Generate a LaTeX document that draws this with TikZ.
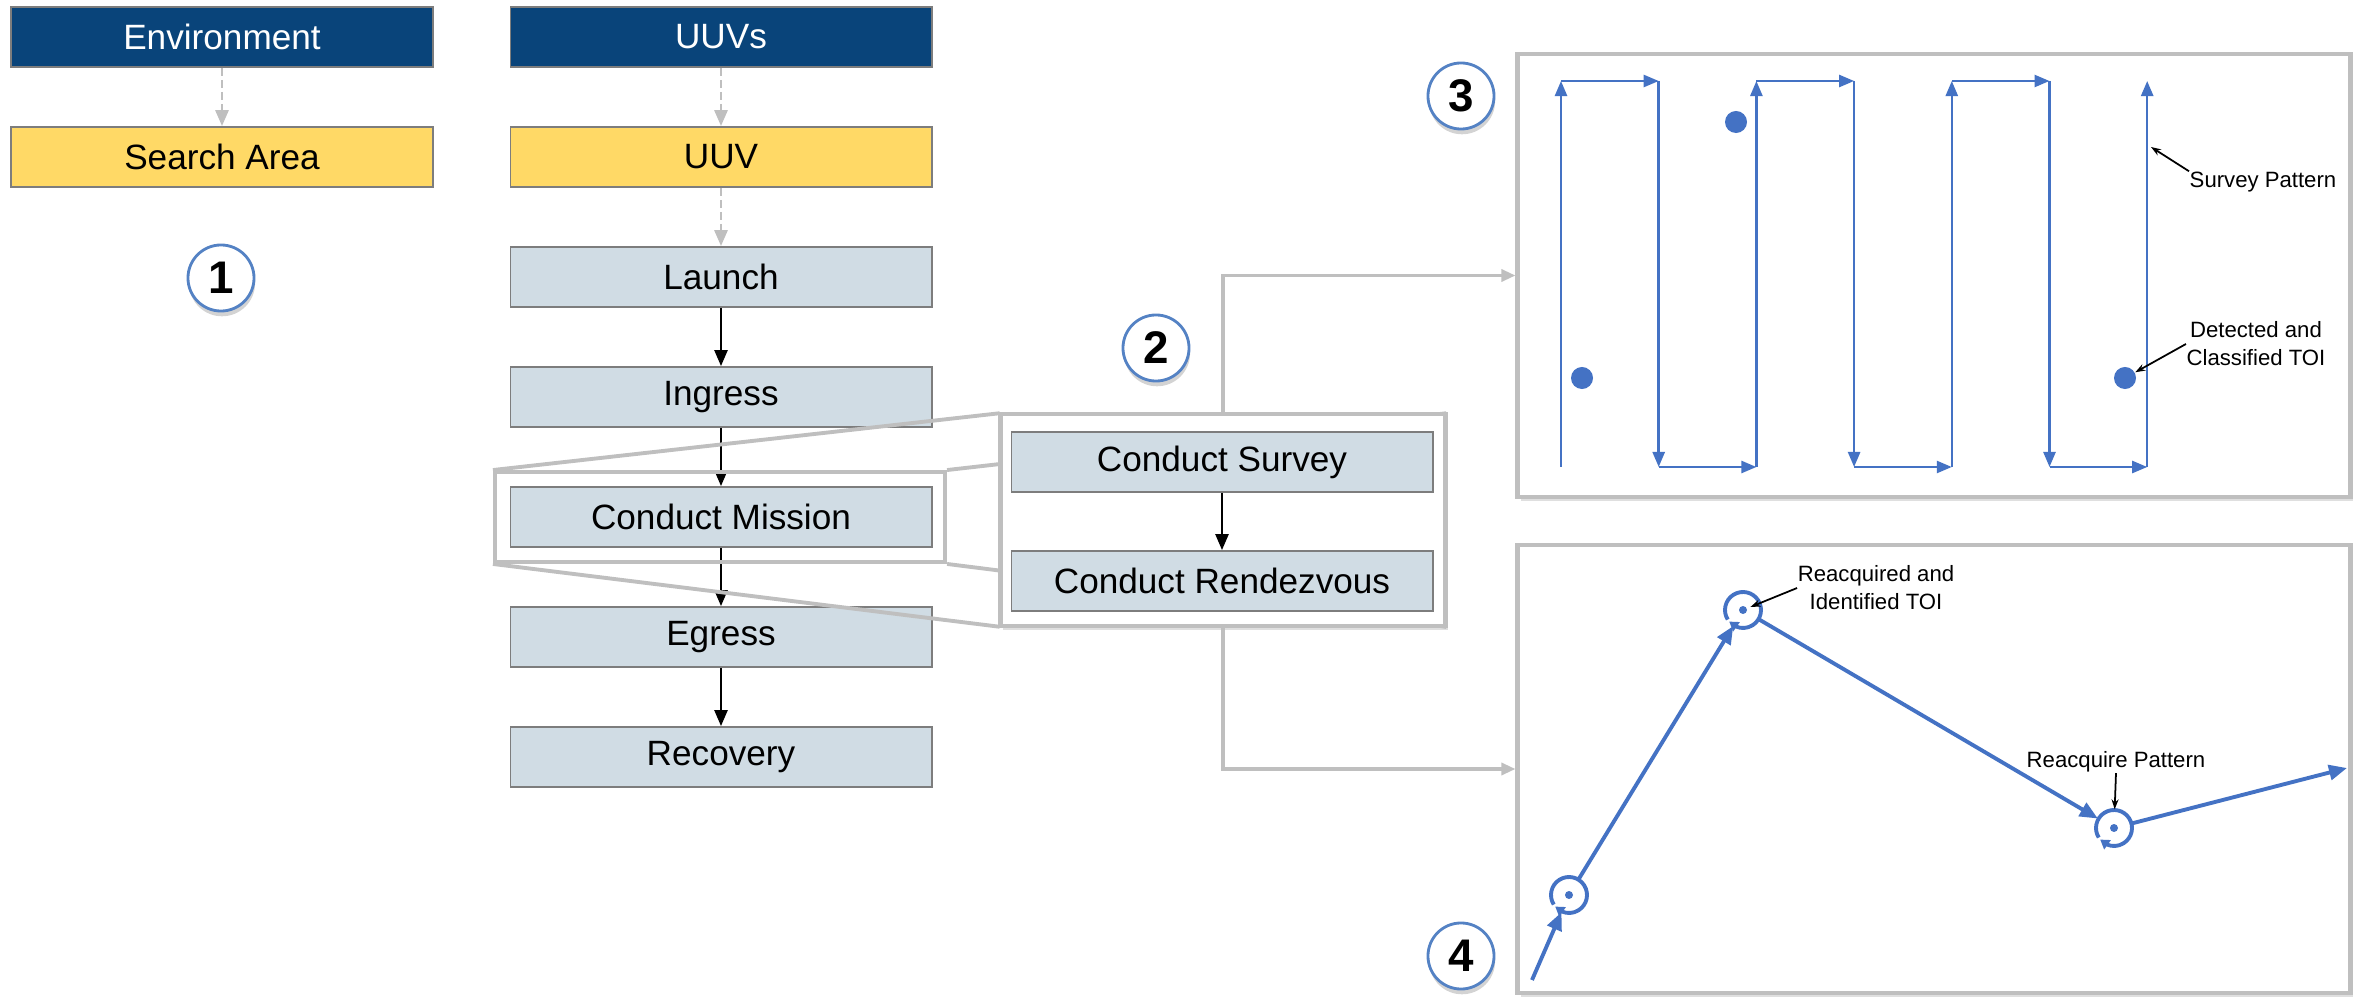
\documentclass[tikz,border=0pt]{standalone}
\usepackage{fontspec}
\setmainfont{Liberation Sans}
\usetikzlibrary{arrows.meta,
                bending,
                shadows}

\definecolor{hdrblue}{RGB}{9,68,122}
\definecolor{gold}{RGB}{255,217,102}
\definecolor{stepgray}{RGB}{208,220,228}
\definecolor{edgegray}{RGB}{125,125,125}
\definecolor{linkgray}{RGB}{191,191,191}
\definecolor{pathblue}{RGB}{68,114,196}
\definecolor{numblue}{RGB}{84,130,196}

\tikzset{
  box/.style={draw=edgegray, line width=0.5pt, minimum width=4.21cm, minimum height=0.6cm,
              inner sep=0pt, font=\fontsize{10}{12}\selectfont},
  hdrbox/.style={box, fill=hdrblue, text=white},
  objbox/.style={box, fill=gold},
  stepbox/.style={box, fill=stepgray},
  flow/.style={-{Triangle[length=0.16cm,width=0.13cm]}, line width=0.7pt, black},
  refine/.style={flow, linkgray, line width=0.8pt, dash pattern=on 0.08cm off 0.04cm},
  zoomline/.style={linkgray, line width=1.1pt},
  link/.style={-{Triangle[length=0.14cm,width=0.12cm]}, linkgray, line width=0.9pt},
  panel/.style={draw=linkgray, line width=1.3pt, fill=white, inner sep=0pt,
                drop shadow={shadow xshift=0.8pt, shadow yshift=-1.2pt, opacity=0.25}},
  numbadge/.style={circle, draw=numblue, line width=0.8pt, fill=white, minimum size=0.66cm,
                   inner sep=0pt, font=\fontsize{13}{15}\selectfont\bfseries,
                   drop shadow={shadow xshift=0.3pt, shadow yshift=-1.5pt, opacity=0.35}},
  sweep/.style={-{Triangle[length=0.15cm,width=0.12cm]}, line width=0.7pt, pathblue},
  track/.style={-{Triangle[length=0.18cm,width=0.15cm]}, line width=1.1pt, pathblue},
  toi/.style={circle, fill=pathblue, minimum size=0.22cm, inner sep=0pt},
  loopspot/.style={circle, minimum size=0.36cm, inner sep=0pt},
  loopline/.style={-{Triangle[length=0.09cm,width=0.11cm]}, line width=1.1pt, pathblue},
  note/.style={font=\fontsize{6.3}{8}\selectfont, align=center, inner sep=0pt},
  callout/.style={-{Stealth[length=0.1cm,width=0.07cm]}, line width=0.5pt, black}
}

\begin{document}
\begin{tikzpicture}[x=0.01cm, y=-0.01cm]
  \useasboundingbox (0,0) rectangle (2359,997);

  \node [hdrbox] (env) at (222,37) {Environment};
  \node [objbox] (area) at (222,157) {Search Area};
  \node [hdrbox] (uuvs) at (721,37) {UUVs};
  \node [objbox] (uuv) at (721,157) {UUV};
  \node [stepbox] (launch) at (721,277) {Launch};
  \node [stepbox] (ingress) at (721,397) {Ingress};
  \node [stepbox] (mission) at (721,517) {Conduct Mission};
  \node [stepbox] (egress) at (721,637) {Egress};
  \node [stepbox] (recovery) at (721,757) {Recovery};

  \draw [refine] (env) -- (area);
  \draw [refine] (uuvs) -- (uuv);
  \draw [refine] (uuv) -- (launch);
  \draw [flow] (launch) -- (ingress);
  \draw [flow] (ingress) -- (mission);
  \draw [flow] (mission) -- (egress);
  \draw [flow] (egress) -- (recovery);

  \node [draw=linkgray, line width=1.1pt, minimum width=4.5cm, minimum height=0.9cm,
         inner sep=0pt] (zoomsrc) at (720,517) {};
  \node [minimum width=4.45cm, minimum height=2.12cm, inner sep=0pt] (zoomarea) at (1223,520) {};
  \draw [zoomline] (zoomsrc.north west) -- (zoomarea.north west);
  \draw [zoomline] (zoomsrc.south west) -- (zoomarea.south west);
  \draw [zoomline] (zoomsrc.north east) -- (zoomarea.north east);
  \draw [zoomline] (zoomsrc.south east) -- (zoomarea.south east);
  \node [panel, minimum width=4.45cm, minimum height=2.12cm] (zoompanel) at (1223,520) {};
  \node [stepbox] (survey) at (1222,462) {Conduct Survey};
  \node [stepbox] (rendezvous) at (1222,581) {Conduct Rendezvous};
  \draw [flow] (survey) -- (rendezvous);

  \node [panel, minimum width=8.32cm, minimum height=4.43cm] (surveypanel) at (1934,275.5) {};
  \node [panel, minimum width=8.32cm, minimum height=4.48cm] (reacqpanel) at (1934,769) {};
  \draw [link] (zoompanel.north) |- (surveypanel.west);
  \draw [link] (zoompanel.south) |- (reacqpanel.west);

  \draw [sweep] (1561,467) -- (1561,81);
  \draw [sweep] (1561,81) -- (1658.7,81);
  \draw [sweep] (1658.7,81) -- (1658.7,467);
  \draw [sweep] (1658.7,467) -- (1756.4,467);
  \draw [sweep] (1756.4,467) -- (1756.4,81);
  \draw [sweep] (1756.4,81) -- (1854.1,81);
  \draw [sweep] (1854.1,81) -- (1854.1,467);
  \draw [sweep] (1854.1,467) -- (1951.8,467);
  \draw [sweep] (1951.8,467) -- (1951.8,81);
  \draw [sweep] (1951.8,81) -- (2049.5,81);
  \draw [sweep] (2049.5,81) -- (2049.5,467);
  \draw [sweep] (2049.5,467) -- (2147.2,467);
  \draw [sweep] (2147.2,467) -- (2147.2,81);
  \node [toi] (toia) at (1736,122) {};
  \node [toi] (toib) at (1582,378) {};
  \node [toi] (toic) at (2125,378) {};
  \node [note] (svpat) at (2263,182) {Survey Pattern};
  \coordinate (svtip) at (2151,147);
  \draw [callout] (svpat.north west) -- (svtip);
  \node [note] (dettoi) at (2256,344) {Detected and\\Classified TOI};
  \draw [callout] (dettoi.west) -- (toic);

  \coordinate (trkstart) at (1532,980);
  \coordinate (trkend) at (2347,768);
  \node [loopspot] (ca) at (1569,895) {};
  \node [loopspot] (cb) at (1743,610) {};
  \node [loopspot] (cc) at (2114,828) {};
  \draw [loopline] (ca.center) ++(-212:18) arc [start angle=-212, end angle=140, radius=18];
  \draw [loopline] (cb.center) ++(-212:18) arc [start angle=-212, end angle=140, radius=18];
  \draw [loopline] (cc.center) ++(-212:18) arc [start angle=-212, end angle=140, radius=18];
  \fill [pathblue] (ca) circle [radius=4];
  \fill [pathblue] (cb) circle [radius=4];
  \fill [pathblue] (cc) circle [radius=4];
  \draw [track] (trkstart) -- (ca);
  \draw [track] (ca) -- (cb);
  \draw [track] (cb) -- (cc);
  \draw [track] (cc) -- (trkend);
  \node [note] (toiid) at (1876,588) {Reacquired and\\Identified TOI};
  \draw [callout, shorten >=0.08cm] (toiid.west) -- (cb.center);
  \node [note] (reacq) at (2116,762) {Reacquire Pattern};
  \draw [callout] (reacq.south) -- (cc);

  \node [numbadge] (numa) at (221,278) {1};
  \node [numbadge] (numb) at (1156,348) {2};
  \node [numbadge] (numc) at (1461,96) {3};
  \node [numbadge] (numd) at (1461,956) {4};
\end{tikzpicture}
\end{document}
